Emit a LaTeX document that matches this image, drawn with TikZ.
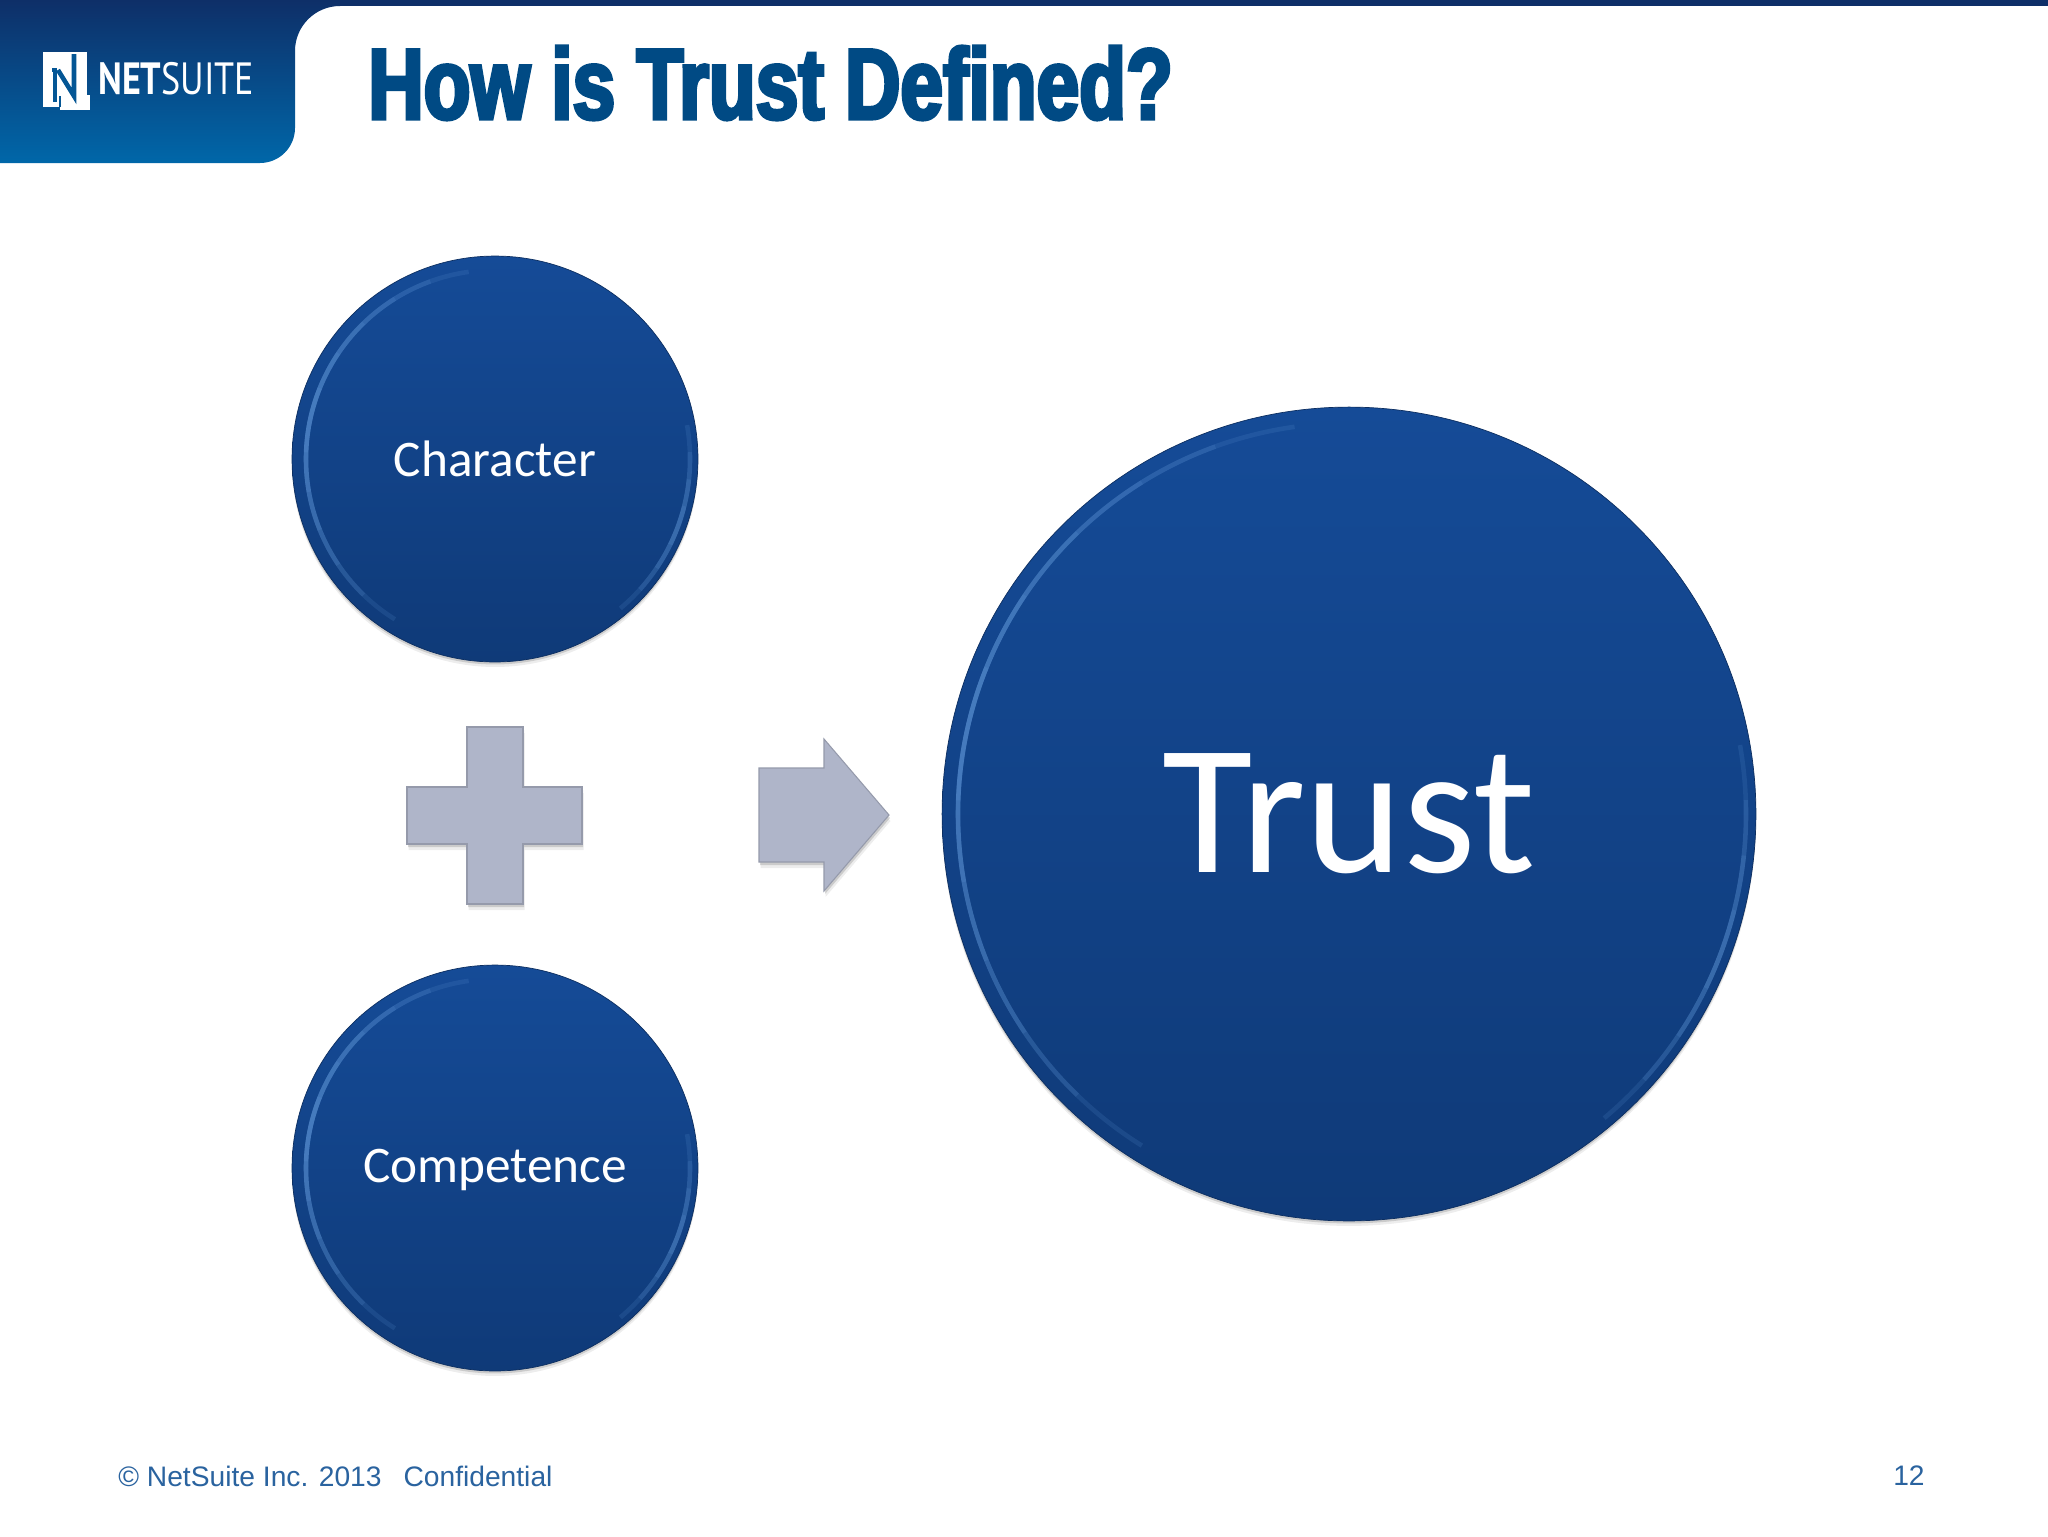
\documentclass[tikz,border=0pt]{standalone}
\usepackage{fontspec}
\setmainfont{Carlito}
\newfontfamily\footfont{Liberation Sans}
\newfontfamily\logofont[FakeStretch=0.8]{PT Sans}
\newfontfamily\titlefont[FakeStretch=0.765,FakeBold=3.6]{Liberation Sans Bold}
\usetikzlibrary{shadows}
\definecolor{tabtop}{HTML}{0E2F68}
\definecolor{tabbottom}{HTML}{0067A9}
\definecolor{titleblue}{HTML}{004A84}
\definecolor{disctop}{HTML}{154B97}
\definecolor{discbottom}{HTML}{0F3A78}
\definecolor{disclight}{HTML}{6AA2E2}
\definecolor{signgrey}{HTML}{AFB5C9}
\definecolor{footblue}{HTML}{2A639F}
\begin{document}
\begin{tikzpicture}[
  x = 0.02cm, y = -0.02cm,
  disc/.style = {circle, inner sep = 0pt, text = white, draw = discbottom!80!black, line width = 0.4pt,
                 top color = disctop, bottom color = discbottom,
                 drop shadow = {shadow xshift = 0cm, shadow yshift = -0.1cm, opacity = 0.07, fill = black},
                 drop shadow = {shadow xshift = 0cm, shadow yshift = -0.05cm, opacity = 0.14, fill = black}},
  rim/.style = {draw = disclight, line width = 2.6pt, opacity = 0.14},
  sign/.style = {fill = signgrey, draw = signgrey!85!black, line width = 0.6pt,
                 drop shadow = {shadow xshift = 0.03cm, shadow yshift = -0.12cm, opacity = 0.07, fill = black},
                 drop shadow = {shadow xshift = 0.02cm, shadow yshift = -0.06cm, opacity = 0.14, fill = black}},
  foot/.style = {inner sep = 0pt, text = footblue, font = \footfont\fontsize{16.05}{20}\selectfont},
  ]
  \useasboundingbox (0,0) rectangle (2048,1536);
  \fill[white] (0,0) rectangle (2048,1536);
  \fill[tabtop] (0,0) rectangle (2048,6);
  \shade[top color = tabtop, bottom color = tabbottom]
    (0,0) -- (340,0) -- (340,6) arc[start angle = -90, end angle = -180, radius = 45]
    -- (295,128) arc[start angle = 0, end angle = 90, radius = 35] -- (0,163) -- cycle;
  \fill[white] (43,52) rectangle (87,107);
  \fill[white] (60,95) rectangle (90,110);
  \draw[tabbottom!70!tabtop, line width = 2.2pt] (55,102) -- (55,70) -- (52,70);
  \draw[tabbottom!70!tabtop, line width = 2.6pt] (58,70) -- (74,96) -- (74,54);
  \draw[tabbottom!70!tabtop, line width = 1.6pt] (60,96) -- (60,107);
  \node[anchor = west, inner sep = 0pt, text = white, font = \logofont\fontsize{25.7}{26}\selectfont] (logo) at (98,79)
    {{\bfseries NET}SUITE};
  \node[anchor = west, inner sep = 0pt, text = titleblue, font = \titlefont\fontsize{57}{58}\selectfont] (title) at (368,83)
    {How is Trust Defined?};
  \node[disc, minimum size = 8.12cm, font = \fontsize{29.2}{32}\selectfont] (character) at (495,459) {Character};
  \node[disc, minimum size = 8.12cm, font = \fontsize{29.2}{32}\selectfont] (competence) at (495,1168) {\raisebox{-8pt}[0pt][0pt]{Competence}};
  \node[disc, minimum size = 16.28cm, font = \fontsize{105.5}{108}\selectfont] (trust) at (1349,814) {Trust};
  \foreach \name/\radius in {character/189, competence/189, trust/391} {
    \foreach \spread in {10,22,34,46,58,70} {
      \draw[rim] (\name.center) ++({-168+\spread}:\radius) arc[start angle = {-168+\spread}, end angle = {-168-\spread}, radius = \radius];
    }
    \foreach \spread in {6,14,22,30} {
      \draw[rim] (\name.center) ++({20-\spread}:\radius+6) arc[start angle = {20-\spread}, end angle = {20+\spread}, radius = \radius+6];
    }
  }
  \draw[sign] (467,727) -- (523,727) -- (523,787) -- (582,787) -- (582,844) -- (523,844)
    -- (523,904) -- (467,904) -- (467,844) -- (407,844) -- (407,787) -- (467,787) -- cycle;
  \draw[sign] (759,768) -- (824,768) -- (824,739) -- (889,815) -- (824,891) -- (824,862) -- (759,862) -- cycle;
  \node[foot, anchor = west] (copyright) at (118,1476) {© NetSuite Inc. 2013\hspace{0.78em}Confidential};
  \node[foot, anchor = east] (pagenum) at (1925,1476) {12};
\end{tikzpicture}
\end{document}
